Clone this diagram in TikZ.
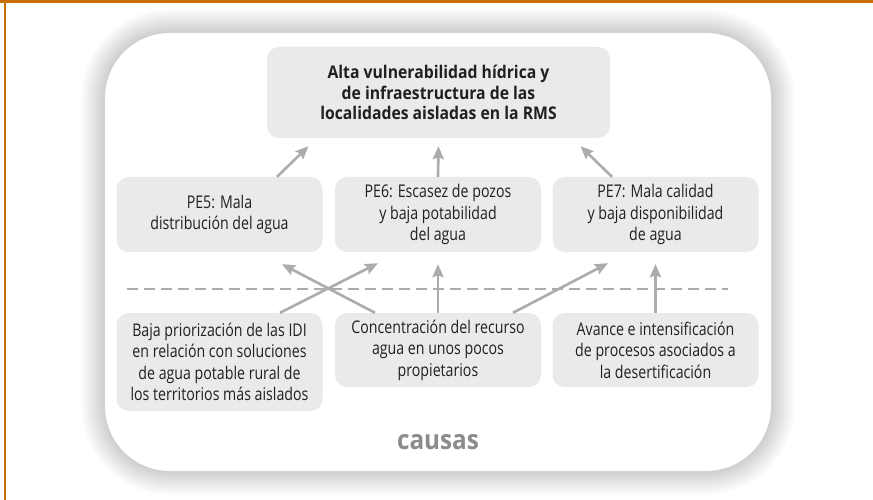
\documentclass[tikz,border=0pt]{standalone}
\usepackage{fontspec}
\setmainfont{Open Sans}[FakeStretch=0.81,BoldFeatures={FakeStretch=0.9}]
\usetikzlibrary{calc,arrows.meta}
\definecolor{naranjo}{RGB}{200,110,0}
\definecolor{fondocaja}{RGB}{234,234,234}
\definecolor{gris}{RGB}{172,172,172}
\definecolor{grisoscuro}{RGB}{140,140,140}
\definecolor{texto}{RGB}{35,31,32}

\begin{document}
\begin{tikzpicture}[x=1pt,y=-1pt,
    caja/.style={fill=fondocaja,rounded corners=12pt,align=center,
      text=texto,inner sep=0pt,minimum width=206pt,
      font=\fontsize{17.5}{21.5}\selectfont},
    flecha/.style={draw=gris,line width=2.6pt,
      -{Stealth[length=13pt,width=11pt,inset=2pt]}}]
  \useasboundingbox (0,0) rectangle (873,500);
  \fill[naranjo] (0,0) rectangle (873,3.5);
  \fill[naranjo] (4,0) rectangle (5.5,500);
  % sombra del marco
  \foreach \i in {1,...,24}{
    \pgfmathsetmacro\radio{65+\i}
    \fill[black,opacity=0.0065,rounded corners=\radio pt]
      (105-\i,33-\i) rectangle (771+\i,471+\i);
  }
  \fill[white,rounded corners=65pt] (105,33) rectangle (771,471);

  \node[caja,minimum width=343pt,minimum height=91pt,
    font=\bfseries\fontsize{17.5}{20.5}\selectfont] (problema) at (438.5,92.5)
    {Alta vulnerabilidad hídrica y\\de infraestructura de las\\localidades aisladas en la RMS};
  \node[caja,minimum height=75pt] (pe5) at (219.5,214.5) {PE5: Mala\\distribución del agua};
  \node[caja,minimum height=75pt] (pe6) at (438,214.5) {PE6: Escasez de pozos\\y baja potabilidad\\del agua};
  \node[caja,minimum height=75pt] (pe7) at (655.5,214.5) {PE7: Mala calidad\\y baja disponibilidad\\de agua};
  \node[caja,minimum height=98pt] (c1) at (219.5,362) {Baja priorización de las IDI\\en relación con soluciones\\de agua potable rural de\\los territorios más aislados};
  \node[caja,minimum height=74pt] (c2) at (438,350) {Concentración del recurso\\agua en unos pocos\\propietarios};
  \node[caja,minimum height=74pt] (c3) at (655.5,350) {Avance e intensificación\\de procesos asociados a\\la desertificación};
  \node[text=grisoscuro,font=\bfseries\fontsize{27}{30}\selectfont] (causas) at (438,442) {causas};

  \draw[gris,line width=2.5pt,dash pattern=on 11pt off 6pt] (127,289) -- (728,289);

  \draw[flecha] ([xshift=57.5pt]pe5.north) -- ($(problema.south)+(-130,8)$);
  \draw[flecha] (pe6.north) -- ($(problema.south)+(0,8)$);
  \draw[flecha] ([xshift=-43.5pt]pe7.north) -- ($(problema.south)+(142,8)$);
  \draw[flecha] ([xshift=60.5pt]c1.north) -- ($(pe6.south)+(-60,11)$);
  \draw[flecha] ([xshift=-63pt]c2.north) -- ($(pe5.south)+(62.5,12)$);
  \draw[flecha] (c2.north) -- ($(pe6.south)+(0,12)$);
  \draw[flecha] ([xshift=75pt]c2.north) -- ($(pe7.south)+(-47.5,11)$);
  \draw[flecha] (c3.north) -- ($(pe7.south)+(0,12)$);
\end{tikzpicture}
\end{document}
